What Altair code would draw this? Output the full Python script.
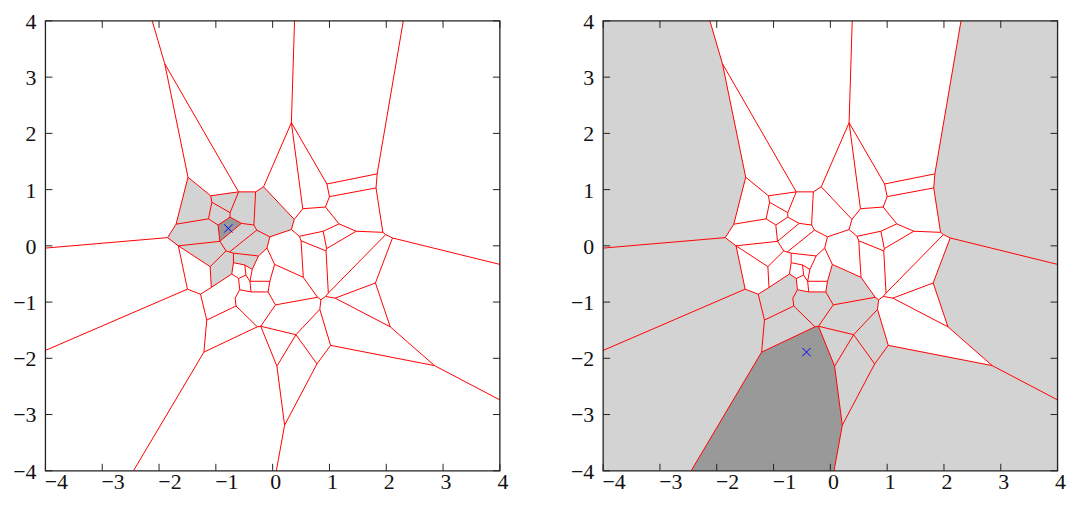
import altair as alt
import pandas as pd

# ---- Voronoi vertices (data units) ----
VERTEX_NAMES = ["T1", "A", "B", "D", "C", "C2", "E", "F", "T2", "K", "L", "M", "T3", "N", "O",
                "Q", "R", "S", "T", "U", "Pa", "Pb", "V", "RE", "W", "X", "X2", "Y", "Ya", "Y2",
                "Y3", "G", "H", "LE", "H3", "I", "Dp", "J", "Jd", "I2", "J2", "J3", "C3", "C4",
                "S2", "J4a", "J4b", "J4c", "J5", "J6", "BB", "AA", "CC", "CC2", "II", "MM", "MM2",
                "MM3", "UU", "TT", "SS", "RR", "RE2", "NN", "OO", "LL", "PP", "QQ", "BR", "JJ",
                "JJ2", "KK", "BL", "GG", "HH", "FF", "EE", "LE2", "DD", "DD2", "v3", "v4", "v5",
                "v6", "v7", "v8", "v9", "v10", "v11", "v12", "TL", "TR", "BLc", "BRc"]
VERTEX_X = [-2.12, -1.90, -1.49, -1.09, -0.60, -0.30, -0.16, 0.33, 0.385, 0.53, 0.955, 1.84, 2.30, 1.00, 1.82,
            0.93, 0.38, 0.33, 1.17, 1.47, 1.94, 1.99, 2.11, 4.0, 0.89, 0.47, 0.50, 0.95, 0.94, 0.98,
            0.93, -1.70, -1.85, -4.0, -1.66, -1.13, -1.07, -0.75, -0.75, -0.96, -0.55, -0.93, -0.33, -0.28,
            -0.05, -0.82, -0.76, -0.69, -0.25, -0.10, 0.035, 0.54, -0.05, -0.08, 0.05, 0.79, 0.85,
            0.83, 1.10, 1.81, 2.07, 2.85, 4.0, 1.02, 0.78, 0.41, 0.075, 0.21, 0.065, -0.27,
            -0.21, -1.21, -2.45, -1.16, -0.645, -1.27, -1.50, -4.0, -1.10, -1.08, -0.69, -0.49, -0.36,
            -0.47, -0.60, -0.72, -0.40, -0.38, -0.58, -0.66, -4.0, 4.0, -4.0, 4.0]
VERTEX_Y = [4.0, 3.24, 1.22, 0.89, 0.96, 0.96, 1.05, 2.19, 4.0, 0.66, 1.10, 1.28, 4.0, 0.875, 1.03,
            0.69, 0.47, 0.29, 0.39, 0.26, 0.24, 0.20, 0.14, -0.33, 0.26, 0.17, 0.09, -0.05, -0.09, -0.84,
            -0.90, 0.385, 0.146, -0.04, 0.0, 0.48, 0.775, 0.59, 0.51, 0.37, 0.40, 0.08, 0.37, 0.28,
            0.16, -0.09, -0.11, -0.13, -0.18, -0.04, -0.33, -0.56, -0.63, -0.82, -1.05, -0.915, -0.96,
            -1.13, -0.93, -0.66, -1.44, -2.13, -2.74, -1.77, -2.10, -1.58, -2.14, -3.19, -4.0, -1.44,
            -1.43, -1.89, -4.0, -1.32, -1.07, -0.86, -0.77, -1.86, -0.37, -0.74, -0.30, -0.34, -0.42,
            -0.52, -0.58, -0.50, -0.63, -0.82, -0.78, -0.93, 4.0, 4.0, -4.0, -4.0]

EDGES = [
    ("T1", "A"), ("A", "B"), ("A", "C"), ("B", "D"), ("B", "G"), ("D", "C"), ("D", "Dp"),
    ("C", "C2"), ("C", "J"), ("C2", "E"), ("C2", "C3"), ("E", "F"), ("E", "R"), ("F", "T2"),
    ("F", "K"), ("F", "L"), ("L", "M"), ("L", "N"), ("M", "T3"), ("M", "O"), ("N", "O"),
    ("N", "Q"), ("Q", "K"), ("Q", "T"), ("K", "R"), ("R", "S"), ("S", "S2"), ("S", "X"),
    ("G", "H"), ("G", "I"), ("H", "LE"), ("H", "H3"), ("I", "Dp"), ("I", "I2"), ("Dp", "J"),
    ("J", "Jd"), ("Jd", "I2"), ("Jd", "J2"), ("I2", "J3"), ("J2", "J3"), ("J2", "C3"),
    ("C3", "C4"), ("C4", "S2"), ("C4", "J4b"), ("J3", "H3"), ("J3", "J4a"), ("J4a", "J4b"),
    ("J4b", "J4c"), ("J4c", "J5"), ("J4c", "v3"),
    ("v3", "v4"), ("v3", "v8"), ("v4", "v5"), ("v4", "v6"), ("v5", "J5"), ("v5", "v9"),
    ("v6", "v9"), ("v6", "v7"), ("v7", "v8"), ("v7", "v11"), ("v8", "DD2"), ("v9", "CC"),
    ("v9", "v10"), ("v10", "CC2"), ("v10", "v11"), ("v11", "v12"), ("v12", "HH"),
    ("J5", "J6"), ("J6", "S2"), ("J6", "BB"), ("BB", "AA"), ("BB", "CC"), ("CC", "CC2"),
    ("CC2", "II"), ("II", "MM"), ("II", "JJ2"), ("AA", "MM"), ("AA", "X2"), ("MM", "MM2"),
    ("MM2", "Y3"), ("MM2", "MM3"), ("Y3", "Y2"), ("Y3", "UU"), ("Y2", "Ya"), ("Y2", "Pb"),
    ("Ya", "Y"), ("Ya", "X2"), ("Y", "W"), ("Y", "U"), ("X2", "X"), ("X", "W"), ("W", "T"),
    ("T", "U"), ("U", "Pa"), ("Pa", "O"), ("Pa", "Pb"), ("Pb", "V"), ("V", "RE"), ("V", "TT"),
    ("TT", "UU"), ("TT", "SS"), ("UU", "SS"), ("SS", "RR"), ("RR", "RE2"), ("RR", "NN"),
    ("NN", "MM3"), ("NN", "OO"), ("MM3", "LL"), ("LL", "OO"), ("LL", "JJ2"), ("LL", "PP"),
    ("PP", "JJ2"), ("PP", "QQ"), ("OO", "QQ"), ("QQ", "BR"), ("JJ", "JJ2"), ("JJ", "HH"),
    ("JJ", "KK"), ("KK", "GG"), ("KK", "BL"), ("GG", "HH"), ("GG", "FF"), ("FF", "EE"),
    ("FF", "DD2"), ("EE", "H3"), ("EE", "LE2"), ("DD", "H3"), ("DD", "J4a"), ("DD", "DD2"),
]

LEFT_LIGHT_CELLS = [
    ["B", "D", "Dp", "I", "G"],
    ["D", "C", "J", "Dp"],
    ["Dp", "J", "Jd", "I2", "I"],
    ["C", "C2", "C3", "J2", "Jd", "J"],
    ["C2", "E", "R", "S", "S2", "C4", "C3"],
    ["G", "I", "I2", "J3", "H3", "H"],
    ["J3", "J2", "C3", "C4", "J4b", "J4a"],
    ["H3", "J3", "J4a", "DD"],
    ["DD", "J4a", "J4b", "J4c", "v3", "v8", "DD2"],
    ["J4c", "J5", "v5", "v4", "v3"],
    ["J4b", "C4", "S2", "J6", "J5", "J4c"],
]
LEFT_DARK_CELL = ["Jd", "J2", "J3", "I2"]

RIGHT_LIGHT_CELLS = [
    ["TL", "T1", "A", "B", "G", "H", "LE"],
    ["LE", "H", "H3", "EE", "LE2"],
    ["LE2", "EE", "FF", "GG", "KK", "BL", "BLc"],
    ["FF", "DD2", "v8", "v7", "v11", "v12", "HH", "GG"],
    ["GG", "HH", "JJ", "KK"],
    ["HH", "v12", "v11", "v10", "CC2", "II", "JJ2", "JJ"],
    ["BB", "AA", "MM", "II", "CC2", "CC"],
    ["JJ2", "II", "MM", "MM2", "MM3", "LL"],
    ["JJ2", "LL", "PP"],
    ["LL", "OO", "QQ", "PP"],
    ["LL", "MM3", "NN", "OO"],
    ["QQ", "OO", "NN", "RR", "RE2", "BRc", "BR"],
    ["V", "TT", "SS", "RR", "RE2", "RE"],
    ["T3", "TR", "RE", "V", "Pb", "Pa", "O", "M"],
]
RIGHT_DARK_CELL = ["BL", "KK", "JJ", "JJ2", "PP", "QQ", "BR"]

LEFT_MARK = [-0.78, 0.31]
RIGHT_MARK = [-0.42, -1.89]

TICKS = [-4, -3, -2, -1, 0, 1, 2, 3, 4]
TICK_LABELS = ["\u22124", "\u22123", "\u22122", "\u22121", "0", "1", "2", "3", "4"]

# ---- layout (pixels) ----
PANEL_W = 457.6
PANEL_H = 453.0
GAP = 104.0
SHIFT = (PANEL_W + GAP) / (PANEL_W / 8.0)   # data-unit offset of the right panel
TOTAL_W = 2 * PANEL_W + GAP
FONT = "Liberation Serif, Times New Roman, DejaVu Serif, serif"
FS = 22

# ---- tables ----
pos = {n: (x, y) for n, x, y in zip(VERTEX_NAMES, VERTEX_X, VERTEX_Y)}
edges_df = pd.DataFrame([
    {"x": pos[a][0], "y": pos[a][1], "x2": pos[b][0], "y2": pos[b][1]} for a, b in EDGES
])


def cells_df(cells):
    rows = []
    for ci, cell in enumerate(cells):
        for i, n in enumerate(cell + [cell[0]]):
            rows.append({"cell": ci, "i": i, "x": pos[n][0], "y": pos[n][1]})
    return pd.DataFrame(rows)


ticks_df = pd.DataFrame({"t": TICKS, "label": TICK_LABELS})
frame_df = pd.DataFrame({"x": [-4.0], "x2": [4.0], "y": [-4.0], "y2": [4.0]})

XS = alt.Scale(domain=[-4, 4 + SHIFT], nice=False, zero=False)
YS = alt.Scale(domain=[-4, 4], nice=False, zero=False)


def X(f):
    return alt.X(f, type="quantitative", scale=XS, axis=None)


def Y(f):
    return alt.Y(f, type="quantitative", scale=YS, axis=None)


def shifted(chart, off, fields):
    if off == 0:
        return chart
    return chart.transform_calculate(**{f: f"datum.{f} + {off}" for f in fields})


def panel_layers(light, dark, mark, off):
    layers = []
    lp = alt.Chart(cells_df(light)).mark_line(fill="#d3d3d3", strokeOpacity=0, fillOpacity=1)
    layers.append(shifted(lp, off, ["x"]).encode(
        x=X("x"), y=Y("y"), order=alt.Order("i:Q"), detail="cell:N"))
    dp = alt.Chart(cells_df([dark])).mark_line(fill="#999999", strokeOpacity=0, fillOpacity=1)
    layers.append(shifted(dp, off, ["x"]).encode(
        x=X("x"), y=Y("y"), order=alt.Order("i:Q"), detail="cell:N"))
    ed = alt.Chart(edges_df).mark_rule(color="#ff0000", stroke="#ff0000", strokeWidth=1)
    layers.append(shifted(ed, off, ["x", "x2"]).encode(
        x=X("x"), y=Y("y"), x2="x2:Q", y2="y2:Q"))
    mk = alt.Chart(pd.DataFrame({"x": [mark[0]], "y": [mark[1]]})).mark_point(
        shape="M-1,-1L1,1M-1,1L1,-1", size=70, filled=False, color="#0000ff",
        strokeWidth=1, opacity=1)
    layers.append(shifted(mk, off, ["x"]).encode(x=X("x"), y=Y("y")))
    # frame
    fr = alt.Chart(frame_df).mark_rect(fillOpacity=0, stroke="#222222", strokeWidth=1.3)
    layers.append(shifted(fr, off, ["x", "x2"]).encode(x=X("x"), x2="x2:Q", y=Y("y"), y2="y2:Q"))
    # inward ticks
    tk = alt.Chart(ticks_df).transform_calculate(
        tx=f"datum.t + {off}", left=f"-4 + {off}", right=f"4 + {off}")
    rule = dict(color="#222222", strokeWidth=1)
    layers.append(tk.mark_rule(**rule).encode(x=X("tx"), y=alt.value(PANEL_H), y2=alt.value(PANEL_H - 7)))
    layers.append(tk.mark_rule(**rule).encode(x=X("tx"), y=alt.value(0), y2=alt.value(7)))
    layers.append(tk.mark_rule(x2Offset=7, **rule).encode(x=X("left"), x2="left:Q", y=Y("t")))
    layers.append(tk.mark_rule(x2Offset=-7, **rule).encode(x=X("right"), x2="right:Q", y=Y("t")))
    # tick labels
    txt = dict(font=FONT, fontSize=FS, baseline="middle", color="#111111")
    layers.append(tk.transform_filter("datum.t < 0").mark_text(align="center", dx=11, **txt).encode(
        x=X("tx"), y=alt.value(PANEL_H + 11), text="label:N"))
    layers.append(tk.transform_filter("datum.t >= 0").mark_text(align="center", dx=3, **txt).encode(
        x=X("tx"), y=alt.value(PANEL_H + 11), text="label:N"))
    layers.append(tk.mark_text(align="right", dx=-9, dy=1, **txt).encode(
        x=X("left"), y=Y("t"), text="label:N"))
    return layers


layers = panel_layers(LEFT_LIGHT_CELLS, LEFT_DARK_CELL, LEFT_MARK, 0) + \
    panel_layers(RIGHT_LIGHT_CELLS, RIGHT_DARK_CELL, RIGHT_MARK, SHIFT)

chart = alt.layer(*layers).properties(
    width=TOTAL_W, height=PANEL_H,
    autosize=alt.AutoSizeParams(type="none"),
    padding={"left": 37.7, "top": 11.3, "right": 9.5, "bottom": 24},
).configure_view(strokeWidth=0)

chart.save("out.html", embed_options={"renderer": "svg", "actions": False})
